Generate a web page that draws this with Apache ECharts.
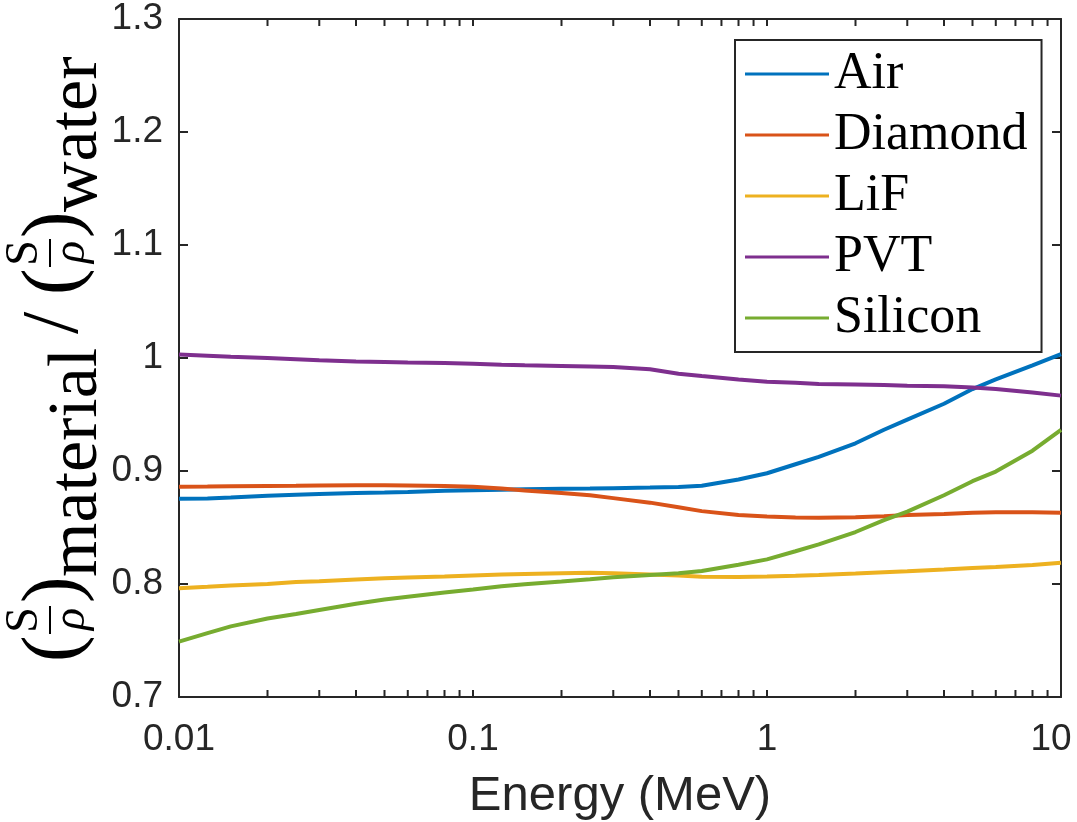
<!DOCTYPE html>
<html>
<head>
<meta charset="utf-8">
<title>Stopping power ratio to water</title>
<script src="https://cdn.jsdelivr.net/npm/echarts@6/dist/echarts.min.js"></script>
<style>
  html, body { margin: 0; padding: 0; background: #fff; }
  #chart { width: 1077px; height: 822px; }
</style>
</head>
<body>
<div id="chart"></div>
<script>
// Electron energy grid (MeV)
const energies = [0.01, 0.0125, 0.015, 0.02, 0.025, 0.03, 0.04, 0.05, 0.06, 0.08,
  0.1, 0.125, 0.15, 0.2, 0.25, 0.3, 0.4, 0.5, 0.6, 0.8,
  1, 1.25, 1.5, 2, 2.5, 3, 4, 5, 6, 8, 10];

// Mass stopping power of each material relative to water
const air = [0.8755, 0.8757, 0.8765, 0.878, 0.879, 0.8797, 0.8805, 0.881, 0.8815, 0.8825,
  0.883, 0.8835, 0.8838, 0.8842, 0.8845, 0.8848, 0.8853, 0.8858, 0.887, 0.8925,
  0.898, 0.906, 0.9125, 0.9245, 0.9365, 0.9455, 0.9595, 0.9725, 0.981, 0.9935, 1.0035];
const diamond = [0.886, 0.8862, 0.8865, 0.8868, 0.887, 0.8872, 0.8873, 0.8873, 0.8872, 0.8867,
  0.886, 0.8845, 0.8828, 0.8805, 0.8785, 0.876, 0.872, 0.868, 0.8645, 0.861,
  0.8597, 0.8588, 0.8586, 0.859, 0.86, 0.861, 0.862, 0.863, 0.8634, 0.8634, 0.863];
const lif = [0.7962, 0.7975, 0.7987, 0.8, 0.8017, 0.8025, 0.804, 0.805, 0.8057, 0.8067,
  0.8075, 0.8083, 0.8088, 0.8095, 0.81, 0.8095, 0.8085, 0.8075, 0.8065, 0.8063,
  0.8067, 0.8073, 0.808, 0.8092, 0.8105, 0.8113, 0.8128, 0.8142, 0.815, 0.8168, 0.8189];
const pvt = [1.003, 1.002, 1.001, 1.0, 0.999, 0.998, 0.997, 0.9965, 0.996, 0.9955,
  0.995, 0.994, 0.9935, 0.993, 0.9925, 0.992, 0.99, 0.986, 0.984, 0.981,
  0.979, 0.978, 0.977, 0.9765, 0.976, 0.9755, 0.975, 0.9738, 0.9725, 0.9695, 0.9667];
const silicon = [0.749, 0.7565, 0.7625, 0.7695, 0.7735, 0.777, 0.7825, 0.7862, 0.7888, 0.7925,
  0.7952, 0.798, 0.7998, 0.8022, 0.8042, 0.806, 0.808, 0.8095, 0.8115, 0.817,
  0.8218, 0.829, 0.835, 0.846, 0.8565, 0.864, 0.8785, 0.891, 0.8995, 0.918, 0.9363];

const seriesNames = ['Air', 'Diamond', 'LiF', 'PVT', 'Silicon'];
const seriesValues = [air, diamond, lif, pvt, silicon];
const seriesColors = ['#0072BD', '#D95319', '#EDB120', '#7E2F8E', '#77AC30'];

// Axis tick labels and tick positions
const xLabelValues = [0.01, 0.1, 1, 10];
const xTickValues = [0.01, 0.02, 0.03, 0.04, 0.05, 0.06, 0.07, 0.08, 0.09,
  0.1, 0.2, 0.3, 0.4, 0.5, 0.6, 0.7, 0.8, 0.9,
  1, 2, 3, 4, 5, 6, 7, 8, 9, 10];
const xMin = 0.01, xMax = 10;
const yMin = 0.7, yMax = 1.3, yStep = 0.1;
const xTitle = 'Energy (MeV)';

const axisColor = '#262626';
const sansFont = '"Liberation Sans", Arial, sans-serif';
const serifFamily = '"Liberation Serif", "Times New Roman", serif';

// Rotated LaTeX-style y title: (S/rho)_material / (S/rho)_water.
// lx runs along the text (upwards from y = 700), ly is the screen x of the text line.
function glyph(txt, lx, ly, size, align, italic) {
  const face = { fontSize: size, fontFamily: serifFamily, fontStyle: italic ? 'italic' : 'normal', fill: '#000' };
  return { type: 'text', x: ly, y: 700 - lx, rotation: Math.PI / 2,
    style: Object.assign({ text: '{g|' + txt + '}', rich: { g: Object.assign({}, face) },
      align: align || 'left', verticalAlign: 'middle' }, face) };
}
function fracGroup(lx) {
  return [
    glyph('S', lx + 14, 25, 46, 'center'),
    { type: 'rect', shape: { x: 49, y: 700 - lx - 28, width: 2, height: 28 }, style: { fill: '#000' } },
    glyph('ρ', lx + 15, 72, 46, 'center', true)
  ];
}
const yTitleElements = [].concat(
  [glyph('(', 38, 56, 80)], fracGroup(66), [glyph(')', 97, 56, 80)],
  [glyph('material', 123, 78, 70)],
  [glyph('/', 377, 56, 80, 'center')],
  [glyph('(', 405, 56, 80)], fracGroup(433), [glyph(')', 462, 56, 80)],
  [glyph('water', 488, 78, 70)]
);

// Inward tick marks along the log energy axis (bottom and top edges of the box)
function xTickRenderer(atTop) {
  return function (params, api) {
    const cs = params.coordSys;
    const x = api.coord([api.value(0), yMin])[0];
    const y0 = atTop ? cs.y : cs.y + cs.height;
    const y1 = atTop ? y0 + 7 : y0 - 7;
    return { type: 'line', shape: { x1: x, y1: y0, x2: x, y2: y1 }, style: { stroke: axisColor, lineWidth: 2 } };
  };
}

const yAxisCommon = {
  type: 'value', min: yMin, max: yMax, interval: yStep,
  axisLine: { show: true, lineStyle: { color: axisColor, width: 2 } },
  axisTick: { show: true, inside: true, length: 9, lineStyle: { color: axisColor, width: 2 } },
  splitLine: { show: false }
};

const chart = echarts.init(document.getElementById('chart'), null, { renderer: 'canvas' });
chart.setOption({
  animation: false,
  backgroundColor: '#fff',
  textStyle: { fontFamily: serifFamily },
  grid: { left: 179, right: 16, top: 19, bottom: 125, outerBoundsMode: 'none' },
  xAxis: [
    { type: 'log', min: xMin, max: xMax,
      axisLine: { show: true, lineStyle: { color: axisColor, width: 2 } },
      axisTick: { show: false }, splitLine: { show: false },
      axisLabel: { customValues: xLabelValues, margin: 24, fontSize: 37, color: axisColor, fontFamily: sansFont,
        formatter: v => (v >= xMax ? '{r|' + xMax + '}' : String(+Number(v).toPrecision(6))),
        rich: { r: { fontSize: 37, color: axisColor, fontFamily: sansFont, padding: [0, 20, 0, 0] } } },
      name: xTitle, nameLocation: 'middle', nameGap: 75,
      nameTextStyle: { fontSize: 49, color: axisColor, fontFamily: sansFont } },
    { type: 'log', min: xMin, max: xMax, position: 'top',
      axisLine: { show: true, lineStyle: { color: axisColor, width: 2 } },
      axisTick: { show: false }, splitLine: { show: false }, axisLabel: { show: false } }
  ],
  yAxis: [
    Object.assign({}, yAxisCommon, { position: 'left',
      axisLabel: { margin: 16, fontSize: 37, color: axisColor, fontFamily: sansFont } }),
    Object.assign({}, yAxisCommon, { position: 'right', axisLabel: { show: false } })
  ],
  legend: {
    orient: 'vertical', left: 735, top: 40,
    padding: [8, 14, 8, 10], itemWidth: 84, itemHeight: 3, itemGap: 9,
    icon: 'rect', borderColor: axisColor, borderWidth: 2, backgroundColor: '#fff',
    textStyle: { fontFamily: serifFamily, fontSize: 52, color: '#000', lineHeight: 50 },
    data: seriesNames
  },
  graphic: yTitleElements,
  series: seriesNames.map((name, k) => ({
    name, type: 'line', showSymbol: false, symbol: 'none',
    color: seriesColors[k],
    lineStyle: { width: 4, color: seriesColors[k] },
    data: energies.map((e, i) => [e, seriesValues[k][i]])
  })).concat([
    { type: 'custom', clip: false, renderItem: xTickRenderer(false), data: xTickValues.map(v => [v, yMin]) },
    { type: 'custom', clip: false, renderItem: xTickRenderer(true), data: xTickValues.map(v => [v, yMin]) }
  ])
});
</script>
</body>
</html>
